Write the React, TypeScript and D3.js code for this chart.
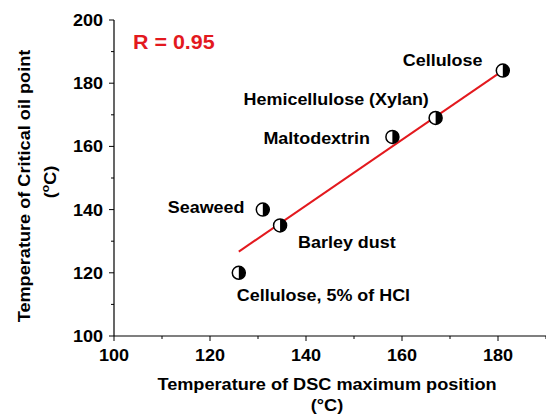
import React from 'react';
import * as d3 from 'd3';

const names = ['Cellulose', 'Hemicellulose (Xylan)', 'Maltodextrin', 'Seaweed', 'Barley dust', 'Cellulose, 5% of HCl'];
const dscTemp = [181, 167, 158, 131, 134.6, 126];
const oilTemp = [184, 169, 163, 140, 135, 120];
// linear fit as drawn in the figure
const fitX = [126, 181];
const fitY = [126.7, 184];
const xTicks = [100, 120, 140, 160, 180];
const yTicks = [100, 120, 140, 160, 180, 200];
const rValue = '0.95';

const W = 546;
const H = 414;
const margin = { top: 20, right: 0, bottom: 78, left: 114 };
const SX = 1.1; // the figure's lettering is a little wide

function T({ x, y, size, anchor = 'start', fill = '#000', children }: any) {
  return (
    <text transform={`translate(${x},${y}) scale(${SX},1)`} fontSize={size} textAnchor={anchor} fill={fill}>
      {children}
    </text>
  );
}

export default function App() {
  const x = d3.scaleLinear().domain([100, 190]).range([margin.left, W - margin.right]);
  const y = d3.scaleLinear().domain([100, 200]).range([H - margin.bottom, margin.top]);

  const fit = d3.line<number>().x(d => x(d)).y((d, i) => y(fitY[i]));

  const minorX = d3.range(110, 191, 20);
  const minorY = d3.range(110, 200, 20);

  // label offsets (px) relative to the marker
  const labelOff: [number, number][] = [
    [-100, -5],
    [-192, -13],
    [-129, 7],
    [-95, 3],
    [18, 23],
    [-2, 28],
  ];

  const font = 'Arial, "Liberation Sans", sans-serif';
  const bottom = H - margin.bottom;

  return (
    <svg width={W} height={H} style={{ position: 'absolute', left: 0, top: 0 }} fontFamily={font} fontWeight="bold">
      <rect width={W} height={H} fill="#fff" />
      {/* axes */}
      <line x1={margin.left} x2={margin.left} y1={margin.top} y2={bottom} stroke="#000" strokeWidth={1.2} />
      <line x1={margin.left} x2={W} y1={bottom} y2={bottom} stroke="#000" strokeWidth={1.2} />
      {xTicks.map(t => (
        <g key={'x' + t}>
          <line x1={x(t)} x2={x(t)} y1={bottom} y2={bottom + 5} stroke="#000" />
          <T x={x(t)} y={bottom + 25} size={16.4} anchor="middle">{t}</T>
        </g>
      ))}
      {minorX.map(t => (
        <line key={'mx' + t} x1={x(t)} x2={x(t)} y1={bottom} y2={bottom + 3} stroke="#000" />
      ))}
      {yTicks.map(t => (
        <g key={'y' + t}>
          <line x1={margin.left - 5} x2={margin.left} y1={y(t)} y2={y(t)} stroke="#000" />
          <T x={margin.left - 11} y={y(t) + 6} size={16.4} anchor="end">{t}</T>
        </g>
      ))}
      {minorY.map(t => (
        <line key={'my' + t} x1={margin.left - 3} x2={margin.left} y1={y(t)} y2={y(t)} stroke="#000" />
      ))}
      {/* axis titles */}
      <T x={327} y={390} size={16.5} anchor="middle">Temperature of DSC maximum position</T>
      <T x={327} y={411} size={16.5} anchor="middle">(°C)</T>
      <g transform="translate(30,186) rotate(-90)">
        <T x={0} y={0} size={16.5} anchor="middle">Temperature of Critical oil point</T>
        <T x={4} y={26} size={16.5} anchor="middle">
          (<tspan fontSize={11} dy={-7}>o</tspan><tspan dy={7}>C)</tspan>
        </T>
      </g>
      {/* fit line */}
      <path d={fit(fitX) ?? ''} fill="none" stroke="#e3191e" strokeWidth={2} />
      <T x={133} y={49} size={19.5} fill="#e3191e">R = {rValue}</T>
      {/* markers */}
      {names.map((n, i) => {
        const cx = x(dscTemp[i]);
        const cy = y(oilTemp[i]);
        const r = 6.5;
        return (
          <g key={n}>
            <circle cx={cx} cy={cy} r={r} fill="#fff" stroke="#000" strokeWidth={1.5} />
            <path d={`M${cx},${cy - r} A${r},${r} 0 0 1 ${cx},${cy + r} Z`} fill="#000" />
            <T x={cx + labelOff[i][0]} y={cy + labelOff[i][1]} size={16.3}>{n}</T>
          </g>
        );
      })}
    </svg>
  );
}
